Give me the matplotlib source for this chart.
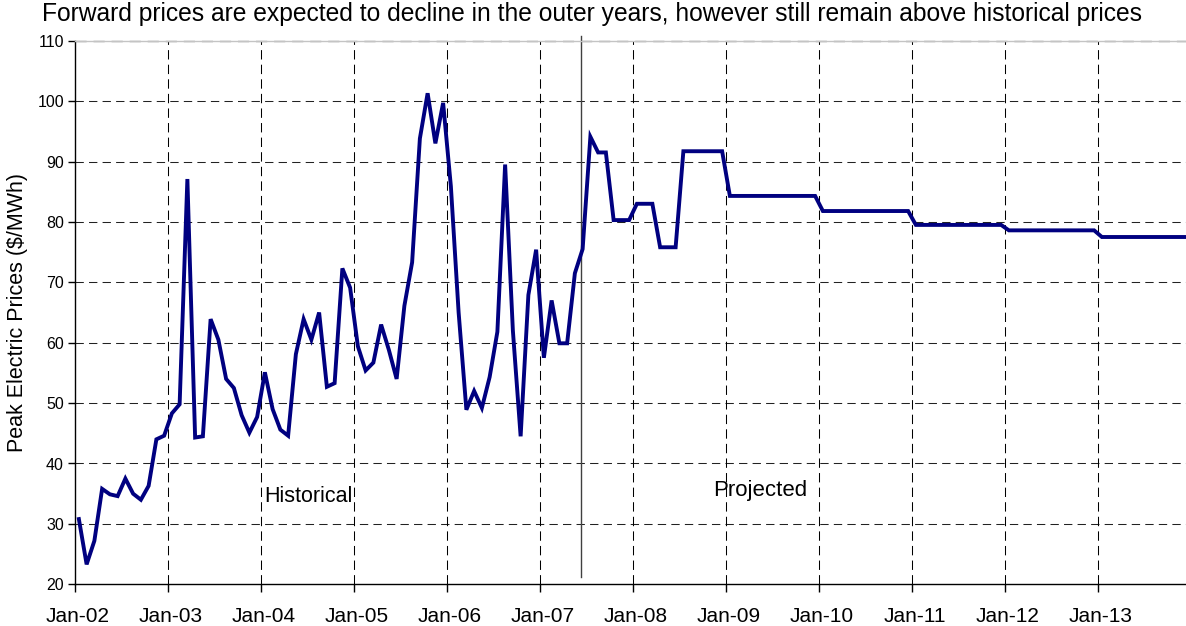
import matplotlib
matplotlib.use("Agg")
import matplotlib.pyplot as plt
import matplotlib.transforms as mtransforms
import numpy as np

plt.rcParams['font.family'] = ['Liberation Sans', 'DejaVu Sans']

# ---- data (monthly, $/MWh) ----
historical = [
    30.8, 23.3, 27.2, 35.8, 34.9, 34.6, 37.5, 35.0, 34.0, 36.3, 44.0, 44.6,   # 2002
    48.3, 49.8, 87.1, 44.3, 44.5, 63.9, 60.5, 54.0, 52.5, 48.0, 45.1, 47.7,   # 2003
    55.1, 49.0, 45.6, 44.6, 58.1, 63.9, 60.5, 65.0, 52.7, 53.3, 72.3, 69.1,   # 2004
    59.4, 55.4, 56.7, 63.0, 58.8, 54.0, 66.1, 73.3, 93.8, 101.3, 93.0, 99.7,  # 2005
    85.9, 65.0, 48.9, 52.0, 49.2, 54.3, 61.8, 89.5, 62.0, 44.5, 67.9, 75.4,   # 2006
    57.5, 67.0, 59.9, 59.9, 71.5, 75.5,                                       # 2007 H1
]
projected = [
    94.1, 91.5, 91.5, 80.3, 80.3, 80.3,                                       # 2007 H2
    83.0, 83.0, 83.0, 75.8, 75.8, 75.8, 91.7, 91.7, 91.7, 91.7, 91.7, 91.7,   # 2008
    84.3, 84.3, 84.3, 84.3, 84.3, 84.3, 84.3, 84.3, 84.3, 84.3, 84.3, 84.3,   # 2009
    81.8, 81.8, 81.8, 81.8, 81.8, 81.8, 81.8, 81.8, 81.8, 81.8, 81.8, 81.8,   # 2010
    79.5, 79.5, 79.5, 79.5, 79.5, 79.5, 79.5, 79.5, 79.5, 79.5, 79.5, 79.5,   # 2011
    78.6, 78.6, 78.6, 78.6, 78.6, 78.6, 78.6, 78.6, 78.6, 78.6, 78.6, 78.6,   # 2012
    77.5, 77.5, 77.5, 77.5, 77.5, 77.5, 77.5, 77.5, 77.5, 77.5, 77.5, 77.5,   # 2013
]
tick_labels = ['Jan-02', 'Jan-03', 'Jan-04', 'Jan-05', 'Jan-06', 'Jan-07',
               'Jan-08', 'Jan-09', 'Jan-10', 'Jan-11', 'Jan-12', 'Jan-13']
y_ticks = [20, 30, 40, 50, 60, 70, 80, 90, 100, 110]

title = ("Forward prices are expected to decline in the outer years, "
         "however still remain above historical prices")

# ---- figure ----
W, H = 1186, 626
fig = plt.figure(figsize=(W / 100, H / 100), dpi=100)
ax_l, ax_r, ax_t, ax_b = 75, 1191, 40.7, 584.3
ax = fig.add_axes([ax_l / W, 1 - ax_b / H, (ax_r - ax_l) / W, (ax_b - ax_t) / H])

values = historical + projected
x = np.arange(len(values)) + 0.5
ax.plot(x, values, color='#000080', lw=2.8, solid_joinstyle='miter', zorder=3)

ax.set_xlim(0, 144)
ax.set_ylim(20, 110)
ax.set_xticks(np.arange(len(tick_labels)) * 12)
ax.set_xticklabels(tick_labels)
ax.set_yticks(y_ticks)

# grid
dash = (0, (8, 5))
for yv in y_ticks[1:-1]:
    ax.axhline(yv, color='#222222', lw=0.75, ls=dash, zorder=1)
for xv in ax.get_xticks()[1:]:
    ax.axvline(xv, color='#000000', lw=0.75, ls=(0, (9, 5)), zorder=1)

ax.spines['right'].set_visible(False)
ax.spines['top'].set_color('#c4c4c4')
ax.spines['top'].set_linewidth(1.0)
ax.axhline(110, color='#888888', lw=1.0, ls=dash, zorder=1, clip_on=False)
ax.spines['left'].set_linewidth(1.0)
ax.spines['bottom'].set_linewidth(1.0)

ax.tick_params(axis='y', direction='out', length=5, width=1, pad=3, labelsize=11.5)
ax.tick_params(axis='x', direction='out', length=6, width=1, pad=10, labelsize=15)

offset = mtransforms.ScaledTranslation(3 / 100, 0, fig.dpi_scale_trans)
for lbl in ax.get_xticklabels():
    lbl.set_transform(lbl.get_transform() + offset)

ax.set_ylabel('Peak Electric Prices ($/MWh)', fontsize=15.5)
ax.yaxis.set_label_coords(-47 / (ax_r - ax_l), 0.5)

# divider between historical and projected
ax.plot([65.25, 65.25], [21.2, 110.7], color='#404040', lw=1.0, clip_on=False, zorder=2)

ax.text(30.1, 34.5, 'Historical', fontsize=15.5, ha='center', va='center')
ax.text(88.4, 35.5, 'Projected', fontsize=16, ha='center', va='center')

fig.text(592 / W, 1 - 14 / H, title, fontsize=17.7, ha='center', va='center')

fig.savefig('out.png', dpi=100)
